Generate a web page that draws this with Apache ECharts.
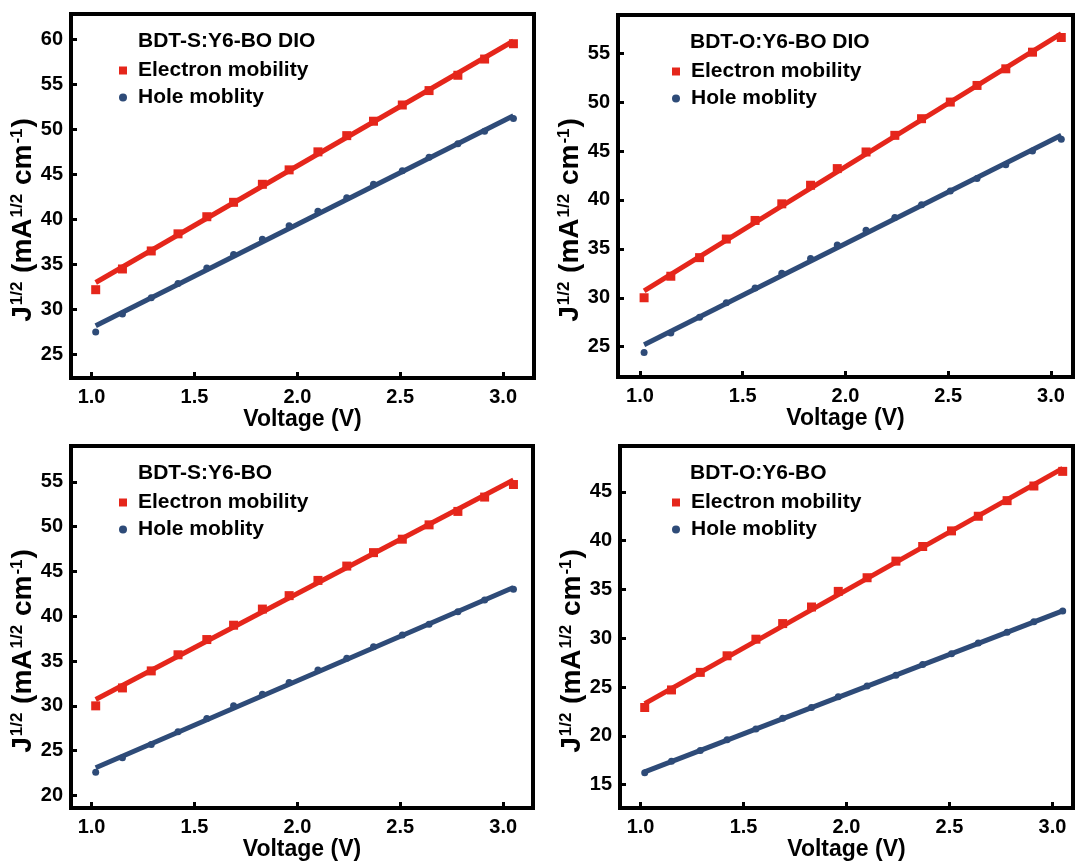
<!DOCTYPE html>
<html>
<head>
<meta charset="utf-8">
<script src="https://cdn.jsdelivr.net/npm/echarts@6/dist/echarts.min.js"></script>
<style>
  html, body { margin: 0; padding: 0; background: #fff; }
  #main { width: 1076px; height: 863px; }
</style>
</head>
<body>
<div id="main"></div>
<script>
// voltage points (V)
var xVals = [1.02, 1.15, 1.29, 1.42, 1.56, 1.69, 1.83, 1.96, 2.10, 2.24, 2.37, 2.51, 2.64, 2.78, 2.91, 3.05];

// panel titles
var panelTitles = ['BDT-S:Y6-BO DIO', 'BDT-O:Y6-BO DIO', 'BDT-S:Y6-BO', 'BDT-O:Y6-BO'];

// J^1/2 data, electron / hole
var p1Electron = [32.2, 34.5, 36.5, 38.4, 40.3, 41.9, 43.9, 45.5, 47.5, 49.3, 50.9, 52.7, 54.3, 56.0, 57.8, 59.5];
var p1Hole     = [27.5, 29.5, 31.3, 32.9, 34.6, 36.1, 37.8, 39.3, 40.9, 42.4, 43.9, 45.4, 46.9, 48.4, 49.8, 51.2];
var p2Electron = [30.0, 32.2, 34.1, 36.0, 37.9, 39.6, 41.5, 43.2, 44.9, 46.6, 48.3, 50.0, 51.7, 53.4, 55.1, 56.6];
var p2Hole     = [24.4, 26.4, 28.0, 29.5, 31.0, 32.5, 34.0, 35.4, 36.9, 38.2, 39.5, 40.9, 42.2, 43.6, 45.0, 46.2];
var p3Electron = [30.0, 32.0, 33.9, 35.7, 37.4, 39.0, 40.8, 42.3, 44.0, 45.6, 47.1, 48.6, 50.2, 51.7, 53.3, 54.7];
var p3Hole     = [22.6, 24.2, 25.7, 27.1, 28.6, 30.0, 31.3, 32.6, 34.0, 35.3, 36.6, 37.9, 39.1, 40.5, 41.8, 43.0];
var p4Electron = [22.9, 24.7, 26.5, 28.2, 29.9, 31.5, 33.2, 34.8, 36.2, 37.9, 39.4, 41.0, 42.5, 44.1, 45.6, 47.1];
var p4Hole     = [16.2, 17.4, 18.5, 19.6, 20.7, 21.8, 22.9, 24.0, 25.1, 26.2, 27.3, 28.4, 29.5, 30.6, 31.7, 32.8];

// linear fits (start / end)
var p1ElectronFit = [[1.02, 33.0], [3.05, 59.8]];
var p1HoleFit     = [[1.02, 28.2], [3.05, 51.5]];
var p2ElectronFit = [[1.02, 30.7], [3.05, 57.0]];
var p2HoleFit     = [[1.02, 25.2], [3.05, 46.6]];
var p3ElectronFit = [[1.02, 30.7], [3.05, 55.2]];
var p3HoleFit     = [[1.02, 23.1], [3.05, 43.2]];
var p4ElectronFit = [[1.02, 23.3], [3.05, 47.4]];
var p4HoleFit     = [[1.02, 16.3], [3.05, 32.8]];

// tick labels
var xTicks = [1.0, 1.5, 2.0, 2.5, 3.0];
var p1YTicks = [25, 30, 35, 40, 45, 50, 55, 60];
var p2YTicks = [25, 30, 35, 40, 45, 50, 55];
var p3YTicks = [20, 25, 30, 35, 40, 45, 50, 55];
var p4YTicks = [15, 20, 25, 30, 35, 40, 45];

var RED = '#e5261b';
var BLUE = '#2e4b78';
var FONT = 'Liberation Sans';

function pairs(xs, ys) {
    var out = [];
    for (var i = 0; i < xs.length; i++) out.push([xs[i], ys[i]]);
    return out;
}

var panels = [
    {grid: {left: 71, top: 14, width: 463, height: 364}, xMin: 0.9, xMax: 3.15, yMin: 22.4, yMax: 62.8, yTicks: p1YTicks,
     e: p1Electron, h: p1Hole, ef: p1ElectronFit, hf: p1HoleFit, legendDx: 48, titleDx: 67},
    {grid: {left: 618, top: 15, width: 455, height: 362}, xMin: 0.893, xMax: 3.107, yMin: 21.9, yMax: 58.9, yTicks: p2YTicks,
     e: p2Electron, h: p2Hole, ef: p2ElectronFit, hf: p2HoleFit, legendDx: 54, titleDx: 72},
    {grid: {left: 71, top: 446, width: 462, height: 362}, xMin: 0.9, xMax: 3.145, yMin: 18.6, yMax: 59.0, yTicks: p3YTicks,
     e: p3Electron, h: p3Hole, ef: p3ElectronFit, hf: p3HoleFit, legendDx: 48, titleDx: 67},
    {grid: {left: 620, top: 446, width: 453, height: 362}, xMin: 0.9, xMax: 3.1, yMin: 12.6, yMax: 49.7, yTicks: p4YTicks,
     e: p4Electron, h: p4Hole, ef: p4ElectronFit, hf: p4HoleFit, legendDx: 52, titleDx: 70}
];

var yName = '{b|J}{s|1/2}{b| (mA}{s|1/2}{b| cm}{s|-1}{b|)}';

var option = {
    backgroundColor: '#fff',
    animation: false,
    textStyle: {fontFamily: FONT},
    grid: [], xAxis: [], yAxis: [], title: [], legend: [], series: []
};

panels.forEach(function (p, i) {
    option.grid.push({
        left: p.grid.left, top: p.grid.top, width: p.grid.width, height: p.grid.height,
        show: true, borderColor: '#000', borderWidth: 4, backgroundColor: 'transparent'
    });
    option.xAxis.push({
        type: 'value', gridIndex: i, min: p.xMin, max: p.xMax,
        name: 'Voltage (V)', nameLocation: 'middle', nameGap: 28,
        nameTextStyle: {fontFamily: FONT, fontSize: 23, fontWeight: 'bold', color: '#000'},
        axisLine: {show: false},
        splitLine: {show: false},
        axisTick: {show: true, inside: true, length: 6, customValues: xTicks, lineStyle: {color: '#000', width: 3}},
        axisLabel: {customValues: xTicks, margin: 9, fontFamily: FONT, fontSize: 20, fontWeight: 'bold', color: '#000',
            formatter: function (v) { return v.toFixed(1); }}
    });
    option.yAxis.push({
        type: 'value', gridIndex: i, min: p.yMin, max: p.yMax,
        name: yName, nameLocation: 'middle', nameGap: 22,
        nameTextStyle: {
            padding: [0, 48, 0, 0],
            rich: {
                b: {fontFamily: FONT, fontSize: 28, fontWeight: 'bold', color: '#000'},
                s: {fontFamily: FONT, fontSize: 17, fontWeight: 'bold', color: '#000', verticalAlign: 'top', padding: [0, 1, 12, 1]}
            }
        },
        axisLine: {show: false},
        splitLine: {show: false},
        axisTick: {show: true, inside: true, length: 6, customValues: p.yTicks, lineStyle: {color: '#000', width: 3}},
        axisLabel: {customValues: p.yTicks, margin: 8, fontFamily: FONT, fontSize: 20, fontWeight: 'bold', color: '#000'}
    });
    option.title.push({
        text: panelTitles[i], padding: 0,
        left: p.grid.left + p.titleDx, top: p.grid.top + 17,
        textStyle: {fontFamily: FONT, fontSize: 21, fontWeight: 'bold', color: '#000'}
    });
    option.legend.push({
        orient: 'vertical', padding: 0,
        left: p.grid.left + p.legendDx, top: p.grid.top + 46,
        itemWidth: 8, itemHeight: 8, itemGap: 6,
        textStyle: {fontFamily: FONT, fontSize: 21, fontWeight: 'bold', color: '#000', padding: [0, 0, 0, 6]},
        data: [{name: 'Electron mobility', icon: 'rect'}, {name: 'Hole moblity', icon: 'circle'}]
    });
    option.series.push(
        {name: 'Electron fit', type: 'line', xAxisIndex: i, yAxisIndex: i, data: p.ef, showSymbol: false,
         lineStyle: {color: RED, width: 5}, z: 2},
        {name: 'Hole fit', type: 'line', xAxisIndex: i, yAxisIndex: i, data: p.hf, showSymbol: false,
         lineStyle: {color: BLUE, width: 5}, z: 2},
        {name: 'Electron mobility', type: 'scatter', xAxisIndex: i, yAxisIndex: i, data: pairs(xVals, p.e),
         symbol: 'rect', symbolSize: 9, itemStyle: {color: RED, opacity: 1}, z: 3},
        {name: 'Hole moblity', type: 'scatter', xAxisIndex: i, yAxisIndex: i, data: pairs(xVals, p.h),
         symbol: 'circle', symbolSize: 7, itemStyle: {color: BLUE, opacity: 1}, z: 3}
    );
});

var myChart = echarts.init(document.getElementById('main'), null, {renderer: 'canvas'});
myChart.setOption(option);
</script>
</body>
</html>
